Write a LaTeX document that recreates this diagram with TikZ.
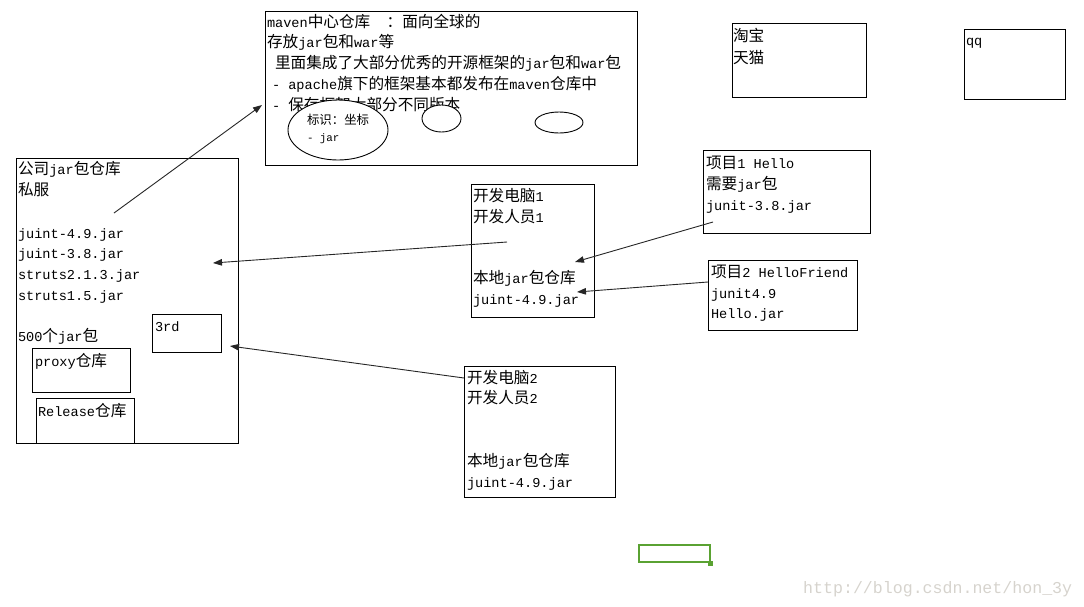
\documentclass[tikz,border=0pt]{standalone}
\usepackage{fontspec}
\setmainfont{Liberation Mono}
\newfontfamily\zh[Scale=1.15]{Noto Sans CJK SC}
\usetikzlibrary{arrows.meta}
\definecolor{selgreen}{RGB}{90,162,50}
\definecolor{wmgray}{RGB}{214,211,205}
\newcommand\zt[1]{{\zh #1}}
\tikzset{
  box/.style={draw=black, line width=0.9pt, inner sep=0pt, outer sep=0pt, anchor=north west, fill=white},
  txt/.style={anchor=base west, inner sep=0pt, outer sep=0pt, font=\fontsize{13.6}{16}\selectfont},
  small/.style={anchor=base west, inner sep=0pt, outer sep=0pt, font=\fontsize{10.8}{13}\selectfont},
  oval/.style={draw=black, line width=0.9pt, fill=white},
  arr/.style={draw=black!85, line width=0.9pt, -{Triangle[length=9pt,width=6.5pt]}},
}
\begin{document}
\begin{tikzpicture}[x=1pt,y=-1pt]
\useasboundingbox (0,0) rectangle (1084,606);

% maven central box
\node[box, minimum width=372pt, minimum height=154pt] (maven) at (265,11) {};
\node[txt] (m1) at (267,27) {maven\zt{中心仓库}\ \ \zt{：面向全球的}};
\node[txt] (m2) at (267,47) {\zt{存放}jar\zt{包和}war\zt{等}};
\node[txt] (m3) at (275,68) {\zt{里面集成了大部分优秀的开源框架的}jar\zt{包和}war\zt{包}};
\node[txt] (m4) at (272,89) {- apache\zt{旗下的框架基本都发布在}maven\zt{仓库中}};
\node[txt] (m5) at (272,110) {- \zt{保存框架大部分不同版本}};
\draw[oval] (338,130) ellipse [x radius=50pt, y radius=30pt];
\node[small] (e1) at (307,124) {\zt{标识：坐标}};
\node[small] (e2) at (307,141) {- jar};
\draw[oval] (441.5,118.5) ellipse [x radius=19.5pt, y radius=13.5pt];
\draw[oval] (559,122.5) ellipse [x radius=24pt, y radius=10.5pt];

% taobao
\node[box, minimum width=134pt, minimum height=74pt] (tb) at (732,23) {};
\node[txt] (tb1) at (733,41) {\zt{淘宝}};
\node[txt] (tb2) at (733,63) {\zt{天猫}};

% qq
\node[box, minimum width=101pt, minimum height=70pt] (qq) at (964,29) {};
\node[txt] (qqt) at (966,45) {qq};

% company repository
\node[box, minimum width=222pt, minimum height=285pt] (corp) at (16,158) {};
\node[txt] (c1) at (18,174) {\zt{公司}jar\zt{包仓库}};
\node[txt] (c2) at (18,195) {\zt{私服}};
\node[txt] (c3) at (18,238) {juint-4.9.jar};
\node[txt] (c4) at (18,258) {juint-3.8.jar};
\node[txt] (c5) at (18,279) {struts2.1.3.jar};
\node[txt] (c6) at (18,300) {struts1.5.jar};
\node[txt] (c7) at (18,341) {500\zt{个}jar\zt{包}};
\node[box, minimum width=69pt, minimum height=38pt] (third) at (152,314) {};
\node[txt] (t3) at (155,331) {3rd};
\node[box, minimum width=98pt, minimum height=44pt] (proxy) at (32,348) {};
\node[txt] (pt) at (35,366) {proxy\zt{仓库}};
\node[box, minimum width=98pt, minimum height=45pt] (rel) at (36,398) {};
\node[txt] (rt) at (38,416) {Release\zt{仓库}};

% developer 1
\node[box, minimum width=123pt, minimum height=133pt] (dev1) at (471,184) {};
\node[txt] (d11) at (473,201) {\zt{开发电脑}1};
\node[txt] (d12) at (473,222) {\zt{开发人员}1};
\node[txt] (d13) at (473,283) {\zt{本地}jar\zt{包仓库}};
\node[txt] (d14) at (473,304) {juint-4.9.jar};

% developer 2
\node[box, minimum width=151pt, minimum height=131pt] (dev2) at (464,366) {};
\node[txt] (d21) at (467,383) {\zt{开发电脑}2};
\node[txt] (d22) at (467,403) {\zt{开发人员}2};
\node[txt] (d23) at (467,466) {\zt{本地}jar\zt{包仓库}};
\node[txt] (d24) at (467,487) {juint-4.9.jar};

% project 1
\node[box, minimum width=167pt, minimum height=83pt] (p1) at (703,150) {};
\node[txt] (p11) at (706,168) {\zt{项目}1 Hello};
\node[txt] (p12) at (706,189) {\zt{需要}jar\zt{包}};
\node[txt] (p13) at (706,210) {junit-3.8.jar};

% project 2
\node[box, minimum width=149pt, minimum height=70pt] (p2) at (708,260) {};
\node[txt] (p21) at (711,277) {\zt{项目}2 HelloFriend};
\node[txt] (p22) at (711,298) {junit4.9};
\node[txt] (p23) at (711,318) {Hello.jar};

% connector end points
\coordinate (a1s) at (114,213);
\coordinate (a1e) at (262,105);
\coordinate (a2s) at (507,242);
\coordinate (a2e) at (213,263);
\coordinate (a3s) at (713,222);
\coordinate (a3e) at (575,262);
\coordinate (a4s) at (708,282);
\coordinate (a4e) at (577,292);
\coordinate (a5s) at (464,378);
\coordinate (a5e) at (230,346);
\draw[arr] (a1s) -- (a1e);
\draw[arr] (a2s) -- (a2e);
\draw[arr] (a3s) -- (a3e);
\draw[arr] (a4s) -- (a4e);
\draw[arr] (a5s) -- (a5e);

% green selection cell
\draw[draw=selgreen, line width=2.6pt] (639,545) rectangle (710,562);
\fill[selgreen] (707.5,560.5) rectangle (713,566);

% watermark
\node[anchor=base west, inner sep=0pt, font=\fontsize{16.6}{20}\selectfont, text=wmgray] (wm) at (803,593) {http://blog.csdn.net/hon\_3y};
\end{tikzpicture}
\end{document}
